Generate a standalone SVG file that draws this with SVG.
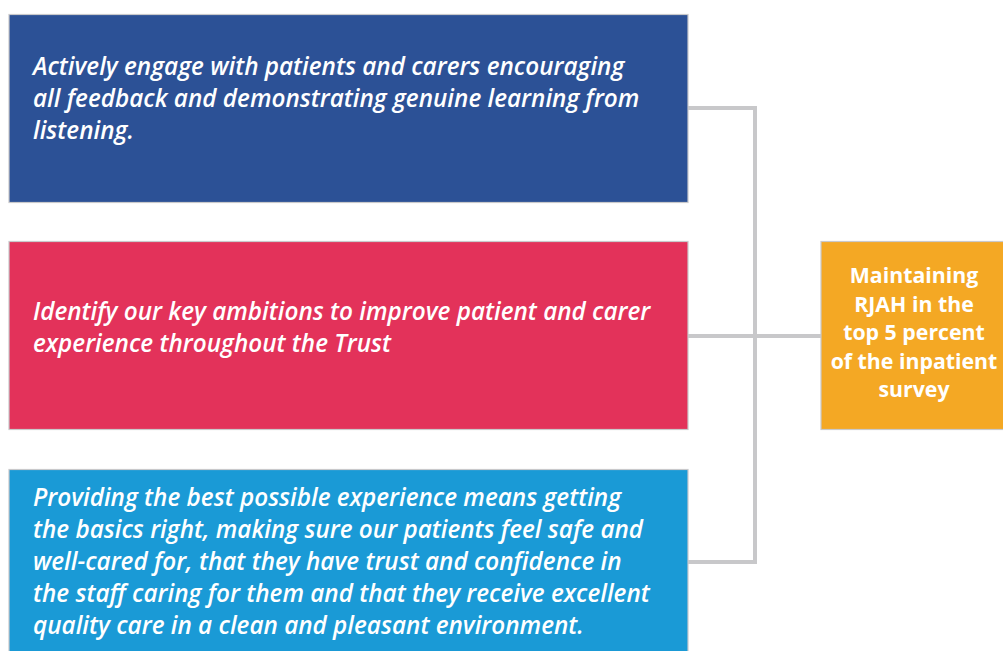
<svg xmlns="http://www.w3.org/2000/svg" width="1003" height="651" viewBox="0 0 1003 651">
  <style>
    .box { stroke: #c9c9cb; stroke-width: 1.2; }
    .body { font-family: "Open Sans", "Liberation Sans", sans-serif; font-style: italic; font-weight: 600; font-size: 24.3px; fill: #ffffff; }
    .goal { font-family: "Open Sans", "Liberation Sans", sans-serif; font-weight: 700; font-size: 21.3px; fill: #ffffff; text-anchor: middle; }
    .link { fill: none; stroke: #c8c8ca; stroke-width: 4; stroke-linejoin: miter; }
  </style>
  <rect width="1003" height="651" fill="#ffffff"/>

  <!-- connectors -->
  <g id="connectors">
    <polyline class="link" points="688,108 755,108 755,562 688,562"/>
    <line class="link" x1="688" y1="336" x2="821" y2="336"/>
  </g>

  <g id="engage">
    <rect class="box" x="9" y="14.5" width="679" height="188" fill="#2c5196"/>
    <text class="body" x="33" y="75">Actively engage with patients and carers encouraging</text>
    <text class="body" x="33" y="107">all feedback and demonstrating genuine learning from</text>
    <text class="body" x="33" y="139">listening.</text>
  </g>

  <g id="ambitions">
    <rect class="box" x="9" y="241.5" width="679" height="188" fill="#e3325a"/>
    <text class="body" x="33" y="319.5">Identify our key ambitions to improve patient and carer</text>
    <text class="body" x="33" y="351.5">experience throughout the Trust</text>
  </g>

  <g id="basics">
    <rect class="box" x="9" y="469.5" width="679" height="188" fill="#1a9ad6"/>
    <text class="body" x="33" y="506">Providing the best possible experience means getting</text>
    <text class="body" x="33" y="538">the basics right, making sure our patients feel safe and</text>
    <text class="body" x="33" y="570">well-cared for, that they have trust and confidence in</text>
    <text class="body" x="33" y="602">the staff caring for them and that they receive excellent</text>
    <text class="body" x="33" y="634">quality care in a clean and pleasant environment.</text>
  </g>

  <g id="goal">
    <rect class="box" x="821" y="241.5" width="190" height="188" fill="#f4a824"/>
    <text class="goal" x="914" y="283">Maintaining</text>
    <text class="goal" x="914" y="311.5">RJAH in the</text>
    <text class="goal" x="914" y="340">top 5 percent</text>
    <text class="goal" x="914" y="368.5">of the inpatient</text>
    <text class="goal" x="914" y="397">survey</text>
  </g>
</svg>
